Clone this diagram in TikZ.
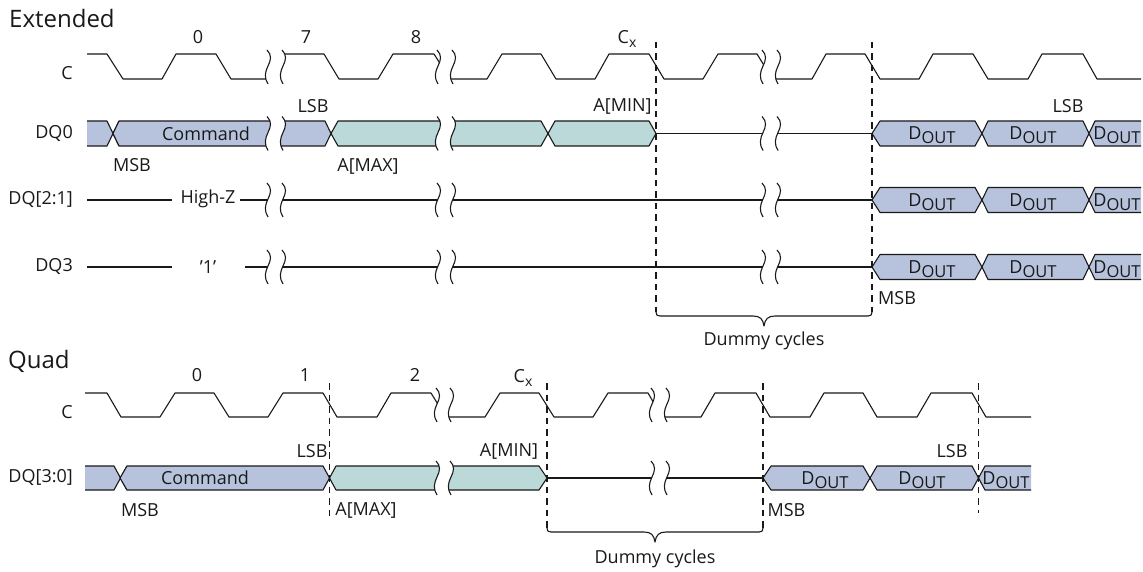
\documentclass[tikz,border=0pt]{standalone}
\usepackage{fontspec}
\setmainfont{Open Sans}
\definecolor{cmdblue}{HTML}{B7C3DC}
\definecolor{addrteal}{HTML}{BBD9D8}
\newcommand{\dout}{D\raisebox{-4pt}{\fontsize{16.5}{17}\selectfont OUT}}
\newcommand{\cyclex}{C\raisebox{-3.5pt}{\fontsize{14}{15}\selectfont x}}
% one break mark: two wavy lines with white between them
\newcommand{\breakmark}[3]{%
  \fill[white] (#1,#3-17) .. controls (#1+5,#3-12) and (#1+4,#3-7) .. (#1+1,#3-1) .. controls (#1-2,#3+5) and (#1-3,#3+11) .. (#1+1,#3+17)
    -- (#2+1,#3+17) .. controls (#2-3,#3+11) and (#2-2,#3+5) .. (#2+1,#3-1) .. controls (#2+4,#3-7) and (#2+5,#3-12) .. (#2,#3-17) -- cycle;
  \draw[wave] (#1,#3-17) .. controls (#1+5,#3-12) and (#1+4,#3-7) .. (#1+1,#3-1) .. controls (#1-2,#3+5) and (#1-3,#3+11) .. (#1+1,#3+17);
  \draw[wave] (#2,#3-17) .. controls (#2+5,#3-12) and (#2+4,#3-7) .. (#2+1,#3-1) .. controls (#2-2,#3+5) and (#2-3,#3+11) .. (#2+1,#3+17);
}
% curly bracket below a dashed pair
\newcommand{\dummybrace}[3]{%
  \pgfmathsetmacro{\bracemid}{(#1+#2)/2}
  \draw[wave] (#1,#3-4) .. controls (#1,#3-1) and (#1+1,#3) .. (#1+4,#3) -- (\bracemid-11,#3)
    .. controls (\bracemid-4,#3) and (\bracemid-1,#3+3) .. (\bracemid,#3+10)
    .. controls (\bracemid+1,#3+3) and (\bracemid+4,#3) .. (\bracemid+11,#3) -- (#2-4,#3)
    .. controls (#2-1,#3) and (#2,#3-1) .. (#2,#3-4);
}
\begin{document}
\begin{tikzpicture}[
    x=1pt, y=-1pt,
    font=\fontsize{18}{21}\selectfont,
    wave/.style={draw=black!90, line width=1.1pt, line join=round},
    cmdbus/.style={wave, fill=cmdblue},
    addrbus/.style={wave, fill=addrteal},
    guide/.style={draw=black!90, line width=1.1pt, dash pattern=on 6.5pt off 5pt},
    lbl/.style={inner sep=0pt, text=black!90},
    sig/.style={lbl, anchor=east},
    mode/.style={lbl, anchor=west, font=\fontsize{24}{27}\selectfont}
  ]
  \useasboundingbox (0,0) rectangle (1143,572);

  % Extended: clock
  \draw[wave] (87,54) -- (107,54) -- (123,79) -- (162,79) -- (176,54) -- (216,54) -- (231,79) -- (275,79);
  \draw[wave] (275,54) -- (324,54) -- (339,79) -- (378,79) -- (393,54) -- (434,54) -- (441,65);
  \draw[wave] (445,79) -- (487,79) -- (502,54) -- (541,54) -- (556,79) -- (595,79) -- (609,54) -- (649,54) -- (664,79) -- (703,79) -- (718,54) -- (757,54) -- (765,67);
  \draw[wave] (770,79) -- (812,79) -- (826,54) -- (865,54) -- (880,79) -- (919,79) -- (933,54) -- (973,54) -- (988,79) -- (1028,79) -- (1042,54) -- (1083,54) -- (1097,79) -- (1141,79);

  % Extended: DQ0
  \fill[cmdblue] (87,121) -- (107,121) -- (113,133.5) -- (107,146) -- (87,146) -- cycle;
  \draw[wave] (87,121) -- (107,121) -- (119,146);
  \draw[wave] (87,146) -- (107,146) -- (119,121);
  \draw[cmdbus] (113,133.5) -- (119,121) -- (325,121) -- (331,133.5) -- (325,146) -- (119,146) -- cycle;
  \draw[addrbus] (331,133.5) -- (338,121) -- (541,121) -- (548,133.5) -- (541,146) -- (338,146) -- cycle;
  \draw[addrbus] (548,133.5) -- (555,121) -- (649,121) -- (656,133.5) -- (649,146) -- (555,146) -- cycle;
  \draw[wave] (656,133.5) -- (872,133.5);

  % Extended: DQ[2:1] and DQ3
  \draw[wave] (87,200) -- (172,200) (240,200) -- (872,200);
  \draw[wave] (87,267) -- (172,267) (245,267) -- (872,267);

  % Extended: data out, three rows
  \foreach \y in {133.5,200,267} {
    \draw[cmdbus] (872,\y) -- (880,\y-12.5) -- (975,\y-12.5) -- (982,\y) -- (975,\y+12.5) -- (880,\y+12.5) -- cycle;
    \draw[cmdbus] (982,\y) -- (988,\y-12.5) -- (1083,\y-12.5) -- (1089,\y) -- (1083,\y+12.5) -- (988,\y+12.5) -- cycle;
    \fill[cmdblue] (1089,\y) -- (1095,\y-12.5) -- (1141,\y-12.5) -- (1141,\y+12.5) -- (1095,\y+12.5) -- cycle;
    \draw[wave] (1141,\y-12.5) -- (1095,\y-12.5) -- (1089,\y) -- (1095,\y+12.5) -- (1141,\y+12.5);
  }

  % Extended: break marks
  \foreach \y in {67,133.5,200,267} {
    \breakmark{267}{282}{\y}
    \breakmark{437}{452}{\y}
    \breakmark{762}{777}{\y}
  }
  \draw[guide] (656,42) -- (656,312);
  \draw[guide] (872,42) -- (872,312);
  \dummybrace{656}{872}{316}

  % Quad: clock
  \draw[wave] (85,393) -- (107,393) -- (121,417) -- (160,417) -- (175,393) -- (214,393) -- (229,417) -- (268,417) -- (283,393) -- (323,393) -- (337,417) -- (377,417) -- (391,393) -- (431,393) -- (439,406);
  \draw[wave] (445,417) -- (485,417) -- (500,393) -- (539,393) -- (554,417) -- (593,417) -- (608,393) -- (648,393) -- (655,405);
  \draw[wave] (660,417) -- (701,417) -- (715,393) -- (756,393) -- (770,417) -- (810,417) -- (824,393) -- (863,393) -- (877,417) -- (917,417) -- (931,393) -- (972,393) -- (986,417) -- (1031,417);

  % Quad: DQ[3:0]
  \fill[cmdblue] (85,466) -- (114,466) -- (120,478) -- (114,490) -- (85,490) -- cycle;
  \draw[wave] (85,466) -- (114,466) -- (127,490);
  \draw[wave] (85,490) -- (114,490) -- (127,466);
  \draw[cmdbus] (120,478) -- (127,466) -- (323,466) -- (329.5,478) -- (323,490) -- (127,490) -- cycle;
  \draw[addrbus] (329.5,478) -- (336,466) -- (539,466) -- (547,478) -- (539,490) -- (336,490) -- cycle;
  \draw[wave] (547,478) -- (763,478);
  \draw[cmdbus] (763,478) -- (771,466) -- (863,466) -- (870,478) -- (863,490) -- (771,490) -- cycle;
  \draw[cmdbus] (870,478) -- (877,466) -- (972,466) -- (978.5,478) -- (972,490) -- (877,490) -- cycle;
  \fill[cmdblue] (978.5,478) -- (985,466) -- (1031,466) -- (1031,490) -- (985,490) -- cycle;
  \draw[wave] (1031,466) -- (985,466) -- (978.5,478) -- (985,490) -- (1031,490);

  % Quad: break marks
  \breakmark{436}{450}{405}
  \breakmark{436}{450}{478}
  \breakmark{651}{666}{405}
  \breakmark{651}{666}{478}
  \draw[guide] (329.5,383) -- (329.5,517);
  \draw[guide] (547,383) -- (547,528);
  \draw[guide] (763,383) -- (763,528);
  \draw[guide] (978.5,383) -- (978.5,513);
  \dummybrace{547}{763}{532}

  % Extended: texts
  \node[mode] (extended) at (9,19) {Extended};
  \node[lbl] (ext0) at (198,37) {0};
  \node[lbl] (ext7) at (306,37) {7};
  \node[lbl] (ext8) at (416,37) {8};
  \node[lbl] (extcx) at (627,39) {\cyclex};
  \node[sig] (extc) at (73,73) {C};
  \node[sig] (extdq0) at (73,134) {DQ0};
  \node[sig] (extdq21) at (73,200) {DQ[2:1]};
  \node[sig] (extdq3) at (73,267) {DQ3};
  \node[lbl] (extcmd) at (206,134) {Command};
  \node[lbl] (exthighz) at (208,199) {High-Z};
  \node[lbl] (extone) at (208,267) {’1’};
  \node[lbl] (extmsba) at (132,165) {MSB};
  \node[lbl] (extlsba) at (313,106) {LSB};
  \node[lbl] (extmax) at (368,166) {A[MAX]};
  \node[lbl] (extmin) at (622.5,106) {A[MIN]};
  \node[lbl] (extlsbb) at (1068,106) {LSB};
  \node[lbl] (extmsbb) at (897,298) {MSB};
  \node[lbl] (extdummy) at (764,341) {Dummy cycles};
  \foreach \y [count=\i] in {135,202,269} {
    \node[lbl] (extouta\i) at (932,\y) {\dout};
    \node[lbl] (extoutb\i) at (1033,\y) {\dout};
    \node[lbl] (extoutc\i) at (1117,\y) {\dout};
  }

  % Quad: texts
  \node[mode] (quad) at (8,361) {Quad};
  \node[lbl] (quad0) at (197,375) {0};
  \node[lbl] (quad1) at (305,375) {1};
  \node[lbl] (quad2) at (415,375) {2};
  \node[lbl] (quadcx) at (523,378) {\cyclex};
  \node[sig] (quadc) at (73,412) {C};
  \node[sig] (quaddq) at (73,478) {DQ[3:0]};
  \node[lbl] (quadcmd) at (205,478) {Command};
  \node[lbl] (quadmsba) at (140,510) {MSB};
  \node[lbl] (quadlsba) at (312,451) {LSB};
  \node[lbl] (quadmax) at (366,510) {A[MAX]};
  \node[lbl] (quadmin) at (509,451) {A[MIN]};
  \node[lbl] (quadlsbb) at (952,451) {LSB};
  \node[lbl] (quadmsbb) at (786.5,510) {MSB};
  \node[lbl] (quaddummy) at (655,559) {Dummy cycles};
  \node[lbl] (quadouta) at (825,480) {\dout};
  \node[lbl] (quadoutb) at (922,480) {\dout};
  \node[lbl] (quadoutc) at (1006,480) {\dout};
\end{tikzpicture}
\end{document}
